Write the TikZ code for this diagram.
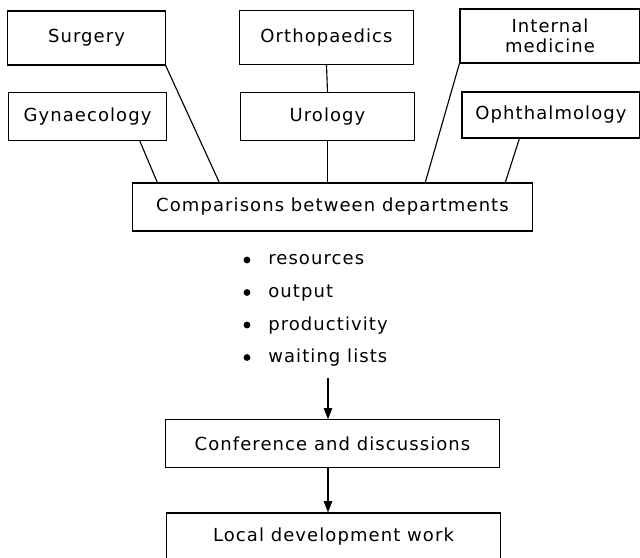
\documentclass[tikz,border=0pt]{standalone}
\usepackage{fontspec}
\setmainfont{DejaVu Sans}[LetterSpace=6]
\usetikzlibrary{arrows.meta, positioning, calc}

\tikzset{
  dept/.style={draw, line width=0.8pt, inner sep=2pt, align=center,
               font=\fontsize{12.8}{14.5}\selectfont},
  item/.style={anchor=base west, inner sep=0pt, font=\fontsize{12.8}{14.5}\selectfont},
  link/.style={line width=0.8pt},
  flow/.style={line width=0.8pt, -{Triangle[length=8pt, width=6pt]}},
}

\begin{document}
\begin{tikzpicture}[x=0.025cm, y=-0.025cm]
  \useasboundingbox (0,0) rectangle (640,558);

  % departments
  \node[dept, minimum width=3.93cm, minimum height=1.35cm] (surg)   at (86.5,38)  {Surgery};
  \node[dept, minimum width=3.93cm, minimum height=1.18cm] (gyn)    at (87.5,116.5) {Gynaecology};
  \node[dept, minimum width=4.33cm, minimum height=1.33cm] (ortho)  at (326.5,37.5) {Orthopaedics};
  \node[dept, minimum width=4.33cm, minimum height=1.18cm] (uro)    at (327.5,116.5) {Urology};
  \node[dept, minimum width=4.5cm,  minimum height=1.35cm] (intmed) at (550,36)   {Internal\\medicine};
  \node[dept, minimum width=4.45cm, minimum height=1.15cm] (ophth)  at (551,115)  {Ophthalmology};

  \node[dept, minimum width=9.98cm, minimum height=1.2cm] (comp) at (332.5,207)
    {Comparisons between departments};

  \draw[link] ($(gyn.south east)+(-27,0)$) -- ($(comp.north west)+(25,0)$);
  \draw[link] (surg.south east) -- ($(comp.north west)+(87,0)$);
  \draw[link] (ortho.south) -- (uro.north);
  \draw[link] (uro.south) -- (uro.south |- comp.north);
  \draw[link] (intmed.south west) -- ($(comp.north west)+(293,0)$);
  \draw[link] ($(ophth.south west)+(58,0)$) -- ($(comp.north west)+(373,0)$);

  % measures
  \foreach \t [count=\i] in {resources, output, productivity, waiting lists} {
    \node[item] (it\i) at (268,232.5+32.5*\i) {\t};
    \fill (247,227.5+32.5*\i) circle (3.4);
  }

  \node[dept, minimum width=8.33cm, minimum height=1.18cm] (conf)  at (332.5,443.5)
    {Conference and discussions};
  \node[dept, minimum width=8.35cm, minimum height=1.2cm]  (local) at (333.5,537)
    {Local development work};

  \coordinate (lstend) at (328,378);
  \draw[flow] (lstend) -- (lstend |- conf.north);
  \draw[flow] (lstend |- conf.south) -- (lstend |- local.north);
\end{tikzpicture}
\end{document}
